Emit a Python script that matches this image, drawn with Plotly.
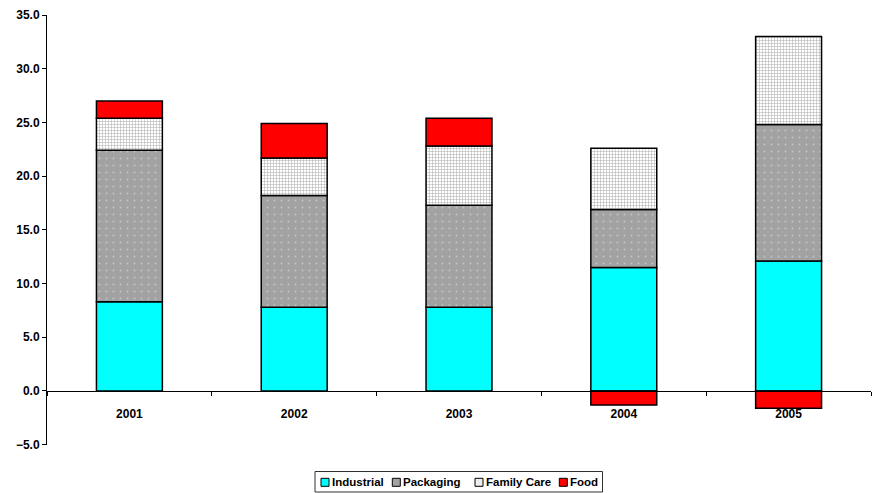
import plotly.graph_objects as go

years = ["2001", "2002", "2003", "2004", "2005"]
industrial = [8.3, 7.8, 7.8, 11.5, 12.1]
packaging = [14.1, 10.4, 9.5, 5.4, 12.7]
family_care = [3.0, 3.5, 5.5, 5.7, 8.2]
food = [1.6, 3.2, 2.6, -1.3, -1.6]

series_names = ["Industrial", "Packaging", "Family Care", "Food"]
y_ticks = [-5, 0, 5, 10, 15, 20, 25, 30, 35]

FONT = "Liberation Sans, Arial, sans-serif"
W, H = 876, 493
M_L, M_R, M_T, M_B = 47, 5, 15, 0
outline = dict(color="#000000", width=1.5)

fig = go.Figure()
fig.add_trace(go.Bar(
    name=series_names[0], x=years, y=industrial,
    marker=dict(color="#00FFFF", line=outline),
))
fig.add_trace(go.Bar(
    name=series_names[1], x=years, y=packaging,
    marker=dict(color="#A2A2A2", line=outline,
                pattern=dict(shape=".", fgcolor="#C4C4C4", bgcolor="#A2A2A2",
                             size=7, solidity=0.06, fillmode="replace")),
))
fig.add_trace(go.Bar(
    name=series_names[2], x=years, y=family_care,
    marker=dict(color="#FFFFFF", line=outline,
                pattern=dict(shape="+", fgcolor="#B4B4B4", bgcolor="#FFFFFF",
                             size=3, solidity=0.35, fillmode="replace")),
))
fig.add_trace(go.Bar(
    name=series_names[3], x=years, y=food,
    marker=dict(color="#FF0000", line=outline),
))

# plot area: 15.5px .. 444.7px from the top
plot_h = H - M_T - M_B
y_dom0 = (H - 444.7) / plot_h
y_zero_frac = y_dom0 + (0 - (-5)) / 40 * (1 - y_dom0)


def px_x(px):
    return (px - M_L) / (W - M_L - M_R)


def px_y(py):
    return (H - M_B - py) / plot_h


# compact legend box underneath the plot
shapes = [dict(type="rect", xref="paper", yref="paper",
               x0=px_x(315), x1=px_x(602.5), y0=px_y(492), y1=px_y(471.5),
               line=dict(color="#303030", width=1), fillcolor="white", layer="above")]
swatch_colors = ["#00FFFF", "#A2A2A2", "#EDEDED", "#FF0000"]
swatch_x = [321, 392.3, 475, 559.3]
label_x = [330, 401, 484, 568]
annotations = []
for name, col, sx, lx in zip(series_names, swatch_colors, swatch_x, label_x):
    shapes.append(dict(type="rect", xref="paper", yref="paper",
                       x0=px_x(sx), x1=px_x(sx + 8), y0=px_y(486.3), y1=px_y(478.3),
                       line=dict(color="#000000", width=1), fillcolor=col, layer="above"))
    annotations.append(dict(text=name, xref="paper", yref="paper",
                            x=px_x(lx), y=px_y(482.3), xanchor="left", yanchor="middle",
                            showarrow=False,
                            font=dict(family=FONT, size=11.5, color="#000000", weight="bold")))

fig.update_layout(
    barmode="relative",
    bargap=0.6,
    width=W, height=H,
    margin=dict(l=M_L, r=M_R, t=M_T, b=M_B, autoexpand=False),
    paper_bgcolor="white", plot_bgcolor="white",
    font=dict(family=FONT, size=12, color="#000000"),
    showlegend=False,
    shapes=shapes,
    annotations=annotations,
    xaxis=dict(
        type="category",
        anchor="free", position=y_zero_frac,
        showline=True, linecolor="#000000", linewidth=1,
        ticks="outside", tickson="boundaries", ticklen=4, tickcolor="#000000",
        ticklabelstandoff=12, automargin=False,
        tickfont=dict(family=FONT, size=12, weight="bold"),
        showgrid=False, zeroline=False,
    ),
    yaxis=dict(
        domain=[y_dom0, 1],
        range=[-5, 35], tickvals=y_ticks, tickformat=".1f",
        showline=True, linecolor="#000000", linewidth=1,
        ticks="outside", ticklen=4, tickcolor="#000000", automargin=False,
        tickfont=dict(family=FONT, size=12, weight="bold"),
        showgrid=False, zeroline=False,
    ),
)

fig.write_html("out.html")
